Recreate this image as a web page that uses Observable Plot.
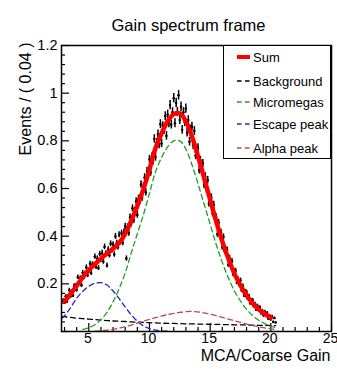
<!DOCTYPE html>
<html><head><meta charset="utf-8">
<script src="https://cdn.jsdelivr.net/npm/d3@7"></script>
<script src="https://cdn.jsdelivr.net/npm/@observablehq/plot@0.6"></script>
<style>
body{margin:0;background:#fff;font-family:"Liberation Sans",Arial,sans-serif}
#wrap{position:relative;width:337px;height:369px}
.legend{position:absolute;left:223px;top:45px;width:108px;height:114px;border:1px solid #000;background:#fff;box-sizing:border-box}
.row{position:absolute;left:0;height:18px;display:flex;align-items:center;font-size:13px;color:#000}
.row svg{margin-left:13px;margin-right:3px}
</style>
</head><body>
<div id="wrap"></div>
<script>
// ---- data ----
const title = "Gain spectrum frame";
const xLabel = "MCA/Coarse Gain";
const yLabel = "Events / ( 0.04 )";
const xTicks = [5, 10, 15, 20, 25];
const yTicks = [0.2, 0.4, 0.6, 0.8, 1.0, 1.2];
const yTickLabels = ["0.2", "0.4", "0.6", "0.8", "1", "1.2"];
const xMinor = [3,4,6,7,8,9,11,12,13,14,16,17,18,19,21,22,23,24];
const yMinor = [0.04,0.08,0.12,0.16,0.24,0.28,0.32,0.36,0.44,0.48,0.52,0.56,0.64,0.68,0.72,0.76,0.84,0.88,0.92,0.96,1.04,1.08,1.12,1.16];

// fit-curve sample positions
const curveX = [2.8,3,3.5,4,4.5,5,5.5,6,6.5,7,7.5,8,8.5,9,9.5,10,10.5,11,11.5,12,12.5,13,13.5,14,14.5,15,15.5,16,16.5,17,17.5,18,18.5,19,19.5,20,20.4];
const sumVals = [0.115,0.126,0.158,0.192,0.228,0.258,0.282,0.306,0.327,0.347,0.372,0.41,0.465,0.527,0.597,0.68,0.77,0.832,0.882,0.912,0.915,0.882,0.818,0.735,0.645,0.553,0.462,0.378,0.306,0.243,0.194,0.151,0.119,0.093,0.074,0.058,0.05];
const bgVals = [0.063,0.062,0.059,0.056,0.054,0.052,0.05,0.048,0.046,0.044,0.043,0.042,0.04,0.039,0.038,0.037,0.036,0.035,0.034,0.034,0.033,0.032,0.032,0.031,0.031,0.03,0.03,0.029,0.029,0.028,0.028,0.027,0.027,0.026,0.026,0.025,0.025];
const micVals = [0.001,0.001,0.002,0.004,0.009,0.016,0.028,0.05,0.08,0.125,0.18,0.245,0.33,0.41,0.49,0.58,0.67,0.73,0.775,0.8,0.8,0.765,0.7,0.62,0.535,0.45,0.365,0.29,0.225,0.17,0.128,0.093,0.067,0.047,0.033,0.022,0.016];
const escVals = [0.055,0.066,0.1,0.14,0.168,0.19,0.202,0.205,0.195,0.17,0.138,0.103,0.07,0.043,0.024,0.012,0.006,0.002,0.001,0,0,0,0,0,0,0,0,0,0,0,0,0,0,0,0,0,0];
const alphaVals = [0,0,0,0,0,0,0.001,0.003,0.006,0.009,0.014,0.02,0.027,0.035,0.043,0.051,0.058,0.065,0.071,0.076,0.08,0.083,0.084,0.082,0.078,0.073,0.066,0.059,0.052,0.045,0.038,0.031,0.025,0.02,0.015,0.011,0.009];

// histogram data (bin centres from 2.9 in steps of 0.1)
const dataStart = 2.9, dataStep = 0.1;
const dataVals = [
0.130,0.120,0.148,0.125,0.149,0.173,0.148,0.167,0.150,0.192,
0.191,0.174,0.228,0.203,0.224,0.194,0.246,0.227,0.244,0.269,
0.236,0.252,0.284,0.245,0.282,0.277,0.314,0.271,0.306,0.266,
0.325,0.300,0.329,0.293,0.355,0.327,0.277,0.344,0.320,0.368,
0.341,0.365,0.323,0.399,0.371,0.354,0.406,0.375,0.412,0.372,
0.418,0.441,0.306,0.439,0.413,0.479,0.452,0.517,0.467,0.507,
0.546,0.489,0.557,0.547,0.617,0.561,0.608,0.646,0.584,0.673,
0.657,0.722,0.668,0.732,0.715,0.808,0.732,0.792,0.827,0.784,
0.870,0.789,0.862,0.845,0.903,0.821,0.910,0.874,0.950,0.868,
0.920,0.979,0.874,0.959,0.921,0.991,0.887,0.943,0.846,0.920,
0.879,0.935,0.834,0.887,0.796,0.848,0.859,0.781,0.841,0.738,
0.762,0.770,0.677,0.718,0.675,0.705,0.615,0.650,0.594,0.635,
0.537,0.564,0.562,0.495,0.532,0.470,0.480,0.408,0.457,0.410,
0.416,0.353,0.397,0.336,0.343,0.343,0.280,0.309,0.275,0.295,
0.239,0.254,0.255,0.205,0.219,0.196,0.215,0.172,0.191,0.150,
0.168,0.166,0.137,0.149,0.118,0.130,0.132,0.106,0.116,0.091,
0.108,0.089,0.102,0.076,0.087,0.067,0.083,0.068,0.078,0.053,
0.066,0.050,0.063,0.040,0.056,0.038
];

// ---- build ----
const hist = dataVals.map((v, i) => ({x: dataStart + i * dataStep, v, e: 0.02 * Math.sqrt(v)}));
const curves = curveX.map((x, i) => ({x, sum: sumVals[i], bg: bgVals[i], mic: micVals[i], esc: escVals[i], alpha: alphaVals[i]}));

const COL = {sum: "#ff0000", bg: "#000000", mic: "#1f9e1f", esc: "#2222cc", alpha: "#b84a4a"};
const dash = "5,3.5";
const font = "Liberation Sans, Arial, sans-serif";

const chart = Plot.plot({
  width: 337, height: 369,
  marginLeft: 61, marginRight: 6, marginTop: 45, marginBottom: 38,
  style: {fontFamily: font, fontSize: "14.5px", background: "#fff", color: "#000"},
  x: {domain: [2.75, 25]},
  y: {domain: [0, 1.2]},
  marks: [
    Plot.axisX(xTicks, {tickSize: 0, tickPadding: 2, label: null, fontSize: 14, dx: -1}),
    Plot.axisY(yTicks, {tickSize: 0, tickPadding: 4, label: null, fontSize: 14.5, tickFormat: (d, i) => yTickLabels[i]}),
    // inward ticks
    Plot.ruleX(xTicks, {x: d => d, y1: 0, y2: 0.034, stroke: "#000", strokeWidth: 1.2}),
    Plot.ruleX(xMinor, {x: d => d, y1: 0, y2: 0.017, stroke: "#000", strokeWidth: 1.2}),
    Plot.ruleY([0, ...yTicks], {y: d => d, x1: 2.75, x2: 3.41, stroke: "#000", strokeWidth: 1.2}),
    Plot.ruleY(yMinor, {y: d => d, x1: 2.75, x2: 3.08, stroke: "#000", strokeWidth: 1.2}),
    // data
    Plot.ruleX(hist, {x: "x", y1: d => d.v - d.e, y2: d => d.v + d.e, stroke: "#000", strokeWidth: 1.5}),
    Plot.ruleY(hist, {y: "v", x1: d => d.x - 0.05, x2: d => d.x + 0.05, stroke: "#000", strokeWidth: 1.3}),
    Plot.dot(hist, {x: "x", y: "v", r: 1.2, fill: "#000", stroke: null}),
    // fit components
    Plot.line(curves, {x: "x", y: "bg", stroke: COL.bg, strokeWidth: 1.3, strokeDasharray: dash, curve: "catmull-rom"}),
    Plot.line(curves.filter(d => d.x >= 4.5), {x: "x", y: "mic", stroke: COL.mic, strokeWidth: 1.3, strokeDasharray: dash, curve: "catmull-rom"}),
    Plot.line(curves.filter(d => d.x <= 11.5), {x: "x", y: "esc", stroke: COL.esc, strokeWidth: 1.3, strokeDasharray: dash, curve: "catmull-rom"}),
    Plot.line(curves.filter(d => d.x >= 5.5), {x: "x", y: "alpha", stroke: COL.alpha, strokeWidth: 1.3, strokeDasharray: dash, curve: "catmull-rom"}),
    Plot.line(curves.filter(d => d.x >= 2.9 && d.x <= 20.1), {x: "x", y: "sum", stroke: COL.sum, strokeWidth: 4.5, curve: "catmull-rom"}),
    Plot.frame({stroke: "#000", strokeWidth: 1.5}),
    // texts
    Plot.text([title], {frameAnchor: "top", dx: -8, dy: -26, fontSize: 16.5, text: d => d}),
    Plot.text([xLabel], {frameAnchor: "bottom-right", textAnchor: "end", dy: 29, dx: -1, fontSize: 16, text: d => d}),
    Plot.text([yLabel], {frameAnchor: "top-left", textAnchor: "end", rotate: -90, dx: -42, dy: -3, fontSize: 16, text: d => d})
  ]
});

const wrap = document.getElementById("wrap");
wrap.appendChild(chart);

// legend
const legendItems = [
  {label: "Sum", color: COL.sum, width: 4, dashed: false},
  {label: "Background", color: COL.bg, width: 1.3, dashed: true},
  {label: "Micromegas", color: COL.mic, width: 1.3, dashed: true},
  {label: "Escape peak", color: COL.esc, width: 1.3, dashed: true},
  {label: "Alpha peak", color: COL.alpha, width: 1.3, dashed: true}
];
const legendRowTops = [2, 26, 47, 69, 93];
const lg = document.createElement("div");
lg.className = "legend";
legendItems.forEach((it, i) => {
  const row = document.createElement("div");
  row.className = "row";
  row.style.top = legendRowTops[i] + "px";
  row.innerHTML = `<svg width="13" height="8"><line x1="0" y1="4" x2="13" y2="4" stroke="${it.color}" stroke-width="${it.width}" ${it.dashed ? 'stroke-dasharray="4.5,3.5"' : ''}/></svg><span>${it.label}</span>`;
  lg.appendChild(row);
});
wrap.appendChild(lg);
</script>
</body></html>
